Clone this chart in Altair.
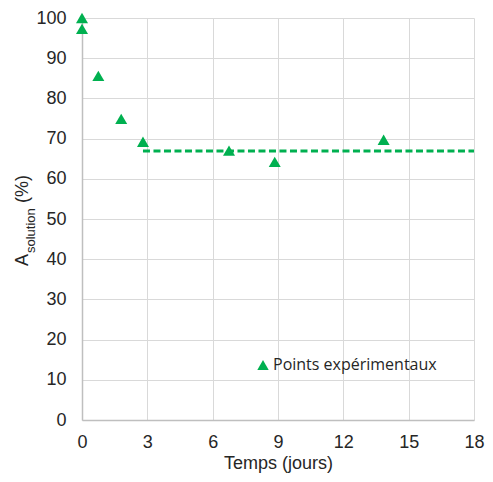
import altair as alt
import pandas as pd

# Experimental points
temps = [0.0, 0.0, 0.75, 1.8, 2.8, 6.75, 8.85, 13.85]
a_solution = [100.0, 97.3, 85.6, 74.9, 69.2, 67.0, 64.2, 69.7]
serie = ["Points expérimentaux"] * len(temps)

# Plateau (dashed line)
plateau_x = [2.8, 18.0]
plateau_y = [66.9, 66.9]

GREEN = "#00B050"

pts = pd.DataFrame({"t": temps, "a": a_solution, "serie": serie})
plateau = pd.DataFrame({"t": plateau_x, "a": plateau_y})

xscale = alt.Scale(domain=[0, 18], nice=False, zero=False)
yscale = alt.Scale(domain=[0, 100], nice=False)

xaxis = alt.Axis(values=[0, 3, 6, 9, 12, 15, 18], title="Temps (jours)",
                 labelFontSize=18, titleFontSize=18, labelPadding=13, titlePadding=3,
                 titleFontWeight="normal", labelFlush=False, labelOverlap=False)
yaxis = alt.Axis(values=list(range(0, 101, 10)), title=None,
                 labelFontSize=18, labelPadding=16, labelFlush=False, labelOverlap=False)

line = alt.Chart(plateau).mark_line(color=GREEN, strokeWidth=3, strokeDash=[7, 3.5]).encode(
    x=alt.X("t:Q", scale=xscale, axis=xaxis),
    y=alt.Y("a:Q", scale=yscale, axis=yaxis),
)

points = alt.Chart(pts).mark_point(shape="triangle-up", filled=True, size=144, opacity=1).encode(
    x=alt.X("t:Q", scale=xscale, axis=xaxis),
    y=alt.Y("a:Q", scale=yscale, axis=yaxis),
    color=alt.Color("serie:N", scale=alt.Scale(domain=["Points expérimentaux"], range=[GREEN]),
                    legend=alt.Legend(title=None, orient="none", legendX=173, legendY=339,
                                      symbolType="triangle-up", symbolSize=130,
                                      labelFont="Open Sans", labelFontSize=16, labelLimit=400,
                                      labelColor="#262626", labelOffset=2, padding=0)),
)

title_df = pd.DataFrame({"k": [0]})
tA = alt.Chart(title_df).mark_text(text="A", angle=270, align="left", baseline="middle",
                                   fontSize=18, font="Liberation Sans", color="#262626").encode(
    x=alt.value(-59), y=alt.value(248))
tSub = alt.Chart(title_df).mark_text(text="solution", angle=270, align="left", baseline="middle",
                                     fontSize=13, font="Liberation Sans", color="#262626").encode(
    x=alt.value(-51), y=alt.value(235))
tPct = alt.Chart(title_df).mark_text(text="(%)", angle=270, align="left", baseline="middle",
                                     fontSize=18, font="Liberation Sans", color="#262626").encode(
    x=alt.value(-59), y=alt.value(185))

chart = alt.layer(line, points, tA, tSub, tPct).properties(
    width=392, height=402,
    autosize=alt.AutoSizeParams(type="none"),
    padding={"left": 74, "top": 10, "right": 11, "bottom": 54},
).configure_view(stroke=None).configure_axis(
    labelFont="Liberation Sans", titleFont="Liberation Sans",
    labelColor="#262626", titleColor="#262626",
    grid=True, gridColor="#d9d9d9", gridWidth=1,
    domainColor="#bfbfbf", domainWidth=1.5, ticks=False,
)

chart.save("out.html", embed_options={"renderer": "svg", "actions": False})
